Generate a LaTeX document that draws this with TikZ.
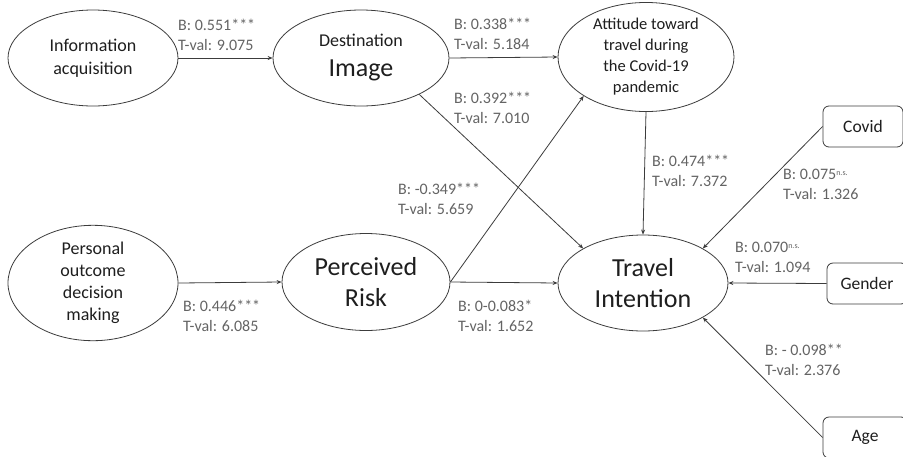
\documentclass[tikz,border=0pt]{standalone}
\usepackage{fontspec}
\setmainfont{Carlito}
\usetikzlibrary{arrows.meta,shapes.geometric}
\definecolor{lbl}{RGB}{100,100,100}
\definecolor{ln}{RGB}{60,60,60}
\definecolor{txt}{RGB}{30,30,30}
\begin{document}
\begin{tikzpicture}[x=1pt,y=-1pt,
  ell/.style={draw=ln, line width=0.8pt, ellipse, inner sep=0pt, align=center, text=txt,
    font=\fontsize{18}{23}\selectfont},
  big/.style={font=\fontsize{26}{31}\selectfont},
  box/.style={draw=ln, line width=0.8pt, rounded corners=6pt, inner sep=0pt, text=txt,
    font=\fontsize{17.5}{22}\selectfont},
  lab/.style={anchor=north west, inner sep=0pt, align=left, text=lbl,
    font=\fontsize{16}{20}\selectfont},
  arr/.style={draw=ln, line width=0.8pt, -{Stealth[length=5pt,width=4pt]}}]
\useasboundingbox (0,0) rectangle (903,456);
\clip (0,0) rectangle (903,456);
\fill[white] (0,0) rectangle (903,456);
% ellipses
\node[ell, minimum width=170pt, minimum height=96pt] (info) at (93,58) {Information\\acquisition};
\node[ell, minimum width=176pt, minimum height=96pt] (dest) at (361,58) {Destination\\[7pt]{\fontsize{26}{30}\selectfont Image}};
\node[ell, minimum width=176pt, minimum height=96pt, font=\fontsize{16.5}{21}\selectfont] (att) at (646,57) {Attitude toward\\travel during\\the Covid-19\\pandemic};
\node[ell, minimum width=170pt, minimum height=96pt, font=\fontsize{18}{22}\selectfont] (pod) at (93,283) {Personal\\outcome\\decision\\making};
\node[ell, big, minimum width=168pt, minimum height=97pt] (pr) at (366,282) {Perceived\\Risk};
\node[ell, big, minimum width=170pt, minimum height=96pt] (ti) at (643,283) {Travel\\Intention};
% boxes
\node[box, minimum width=80pt, minimum height=41pt] (covid) at (863,126.5) {Covid};
\node[box, minimum width=80pt, minimum height=41pt] (gender) at (867,283.5) {Gender};
\node[box, minimum width=84pt, minimum height=41pt] (age) at (865,437.5) {Age};
% connectors
\draw[arr] (info.east) -- (dest.west);
\draw[arr] (dest.east) -- (att.west);
\draw[arr] (dest.-32) -- (ti.150);
\draw[arr] (pr.east) -- (att.212);
\draw[arr] (pr.east) -- (ti.west);
\draw[arr] (att.south) -- (ti.north);
\draw[arr] (covid.west) -- (ti.30);
\draw[arr] (gender.west) -- (ti.east);
\draw[arr] (age.west) -- (ti.-30);
\draw[arr] (pod.east) -- (pr.west);
% labels
\node[lab] (l1) at (178,19) {B: 0.551***\\T-val: 9.075};
\node[lab] (l2) at (454,18) {B: 0.338***\\T-val: 5.184};
\node[lab] (l3) at (454,92) {B: 0.392***\\T-val: 7.010};
\node[lab] (l4) at (398,183) {B: -0.349***\\T-val: 5.659};
\node[lab] (l5) at (652,155) {B: 0.474***\\T-val: 7.372};
\node[lab] (l6) at (783,169) {B: 0.075{\fontsize{8}{8}\selectfont\raisebox{4pt}{n.s.}}\\T-val: 1.326};
\node[lab] (l7) at (735,242) {B: 0.070{\fontsize{8}{8}\selectfont\raisebox{4pt}{n.s.}}\\T-val: 1.094};
\node[lab] (l8) at (458,300) {B: 0-0.083*\\T-val: 1.652};
\node[lab] (l9) at (183,300) {B: 0.446***\\T-val: 6.085};
\node[lab] (l10) at (765,344) {B: - 0.098**\\T-val: 2.376};
\end{tikzpicture}
\end{document}
